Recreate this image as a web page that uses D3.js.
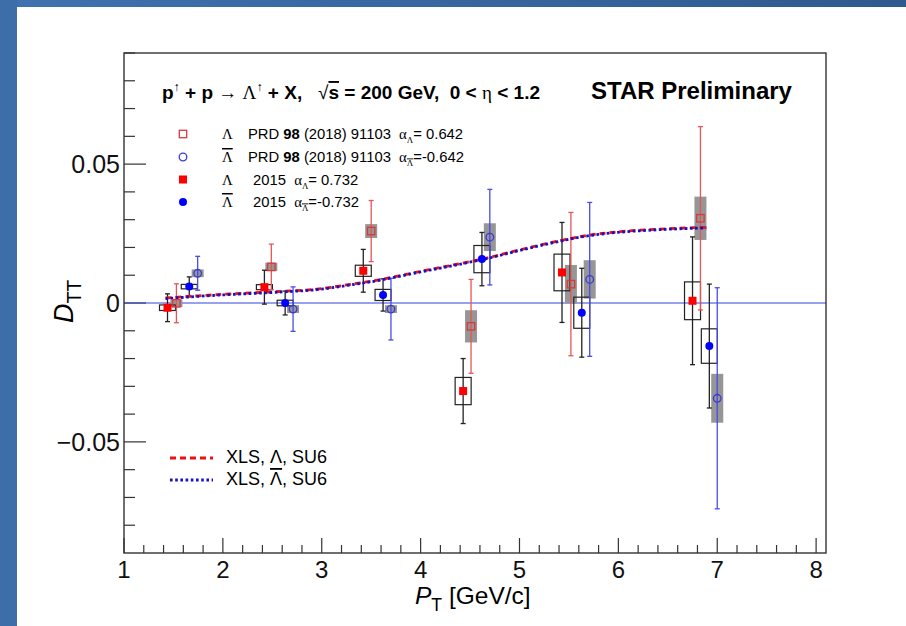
<!DOCTYPE html>
<html>
<head>
<meta charset="utf-8">
<script src="https://cdn.jsdelivr.net/npm/d3@7"></script>
<style>
  body { margin: 0; background: #fff; }
  svg { display: block; }
  text { white-space: pre; }
</style>
</head>
<body>
<svg id="chart" width="906" height="626"></svg>
<script>
// ---- Λ, PRD 98 (2018) 091103 ----
const ptLamPRD   = [1.53, 2.49, 3.50, 4.51, 5.52, 6.83];
const dttLamPRD  = [-0.0001, 0.0130, 0.0259, -0.0084, 0.0068, 0.0305];
const statLamPRD = [0.0070, 0.0082, 0.0110, 0.0169, 0.0258, 0.0330];
const sysLamPRD  = [0.0014, 0.0015, 0.0025, 0.0058, 0.0069, 0.0078];

// ---- anti-Λ, PRD 98 (2018) 091103 ----
const ptLbarPRD   = [1.745, 2.71, 3.70, 4.70, 5.71, 7.00];
const dttLbarPRD  = [0.0107, -0.0022, -0.0022, 0.0237, 0.0085, -0.0343];
const statLbarPRD = [0.0061, 0.0080, 0.0111, 0.0172, 0.0277, 0.0398];
const sysLbarPRD  = [0.0014, 0.0014, 0.0014, 0.0050, 0.0069, 0.0088];

// ---- Λ, 2015 ----
const ptLam15   = [1.44, 2.42, 3.42, 4.43, 5.43, 6.75];
const dttLam15  = [-0.0017, 0.0057, 0.0116, -0.0317, 0.0110, 0.0008];
const statLam15 = [0.0050, 0.0061, 0.0077, 0.0117, 0.0180, 0.0230];
const sysLam15  = [0.0010, 0.0009, 0.0020, 0.0049, 0.0066, 0.0068];

// ---- anti-Λ, 2015 ----
const ptLbar15   = [1.66, 2.63, 3.62, 4.62, 5.63, 6.92];
const dttLbar15  = [0.0059, 0.0000, 0.0029, 0.0158, -0.0035, -0.0155];
const statLbar15 = [0.0035, 0.0043, 0.0058, 0.0096, 0.0160, 0.0223];
const sysLbar15  = [0.0008, 0.0010, 0.0020, 0.0049, 0.0056, 0.0062];

// ---- XLS model curves (SU6) ----
const ptModel   = [1.42, 1.94, 2.61, 2.95, 3.29, 3.62, 4.00, 4.33, 4.67, 5.00, 5.34, 5.68, 6.02, 6.42, 6.76, 6.89];
const dttXlsLam = [0.0018, 0.0030, 0.0042, 0.0050, 0.0067, 0.0086, 0.0114, 0.0137, 0.0162, 0.0191, 0.0219, 0.0243, 0.0257, 0.0266, 0.0271, 0.0272];
const dttXlsLbar= [0.0016, 0.0028, 0.0040, 0.0048, 0.0065, 0.0084, 0.0112, 0.0135, 0.0160, 0.0189, 0.0217, 0.0241, 0.0255, 0.0264, 0.0269, 0.0270];

// ---- axes ----
const xMajor = [1, 2, 3, 4, 5, 6, 7, 8];
const yMajor = [-0.05, 0, 0.05];
const yMajorLabels = ["\u22120.05", "0", "0.05"];

const svg = d3.select("#chart");
const W = 906, H = 626;
const M = { left: 124, right: 826, top: 53, bottom: 553 };

const x = d3.scaleLinear().domain([1, 8.1]).range([M.left, M.right]);
const y = d3.scaleLinear().domain([-0.09, 0.09]).range([M.bottom, M.top]);

const SANS = "'Liberation Sans', Arial, Helvetica, sans-serif";
const SERIF = "'Liberation Serif', 'Times New Roman', serif";

// page decoration: slide-style blue bands
const grad = svg.append("defs").append("linearGradient").attr("id", "band")
  .attr("x1", "0%").attr("x2", "100%");
grad.append("stop").attr("offset", "0%").attr("stop-color", "#3f72b0");
grad.append("stop").attr("offset", "100%").attr("stop-color", "#2f5a8f");
svg.append("rect").attr("x", 0).attr("y", 0).attr("width", W).attr("height", 7).attr("fill", "url(#band)");
svg.append("rect").attr("x", 0).attr("y", 0).attr("width", 17).attr("height", H).attr("fill", "#3d6eaa");

// rich text helper: segments with sub/superscripts, bold, serif, overline
function rich(g, x0, y0, parts, base) {
  const t = g.append("text").attr("x", x0).attr("y", y0)
    .attr("font-family", base.family || SANS)
    .attr("font-size", base.size)
    .attr("font-weight", base.weight || "normal")
    .attr("fill", "#000");
  if (base.anchor) t.attr("text-anchor", base.anchor);
  let shift = 0;
  parts.forEach(p => {
    const s = t.append("tspan").text(p.t);
    const target = p.sub ? base.size * (p.subShift || 0.3) : p.sup ? -base.size * 0.42 : 0;
    if (target - shift !== 0) s.attr("dy", target - shift);
    shift = target;
    if (p.sub || p.sup) s.attr("font-size", base.size * (p.scale || 0.7));
    if (p.b) s.attr("font-weight", "bold");
    if (p.nb) s.attr("font-weight", "normal");
    if (p.serif) s.attr("font-family", SERIF);
    if (p.i) s.attr("font-style", "italic");
    if (p.over) s.attr("text-decoration", "overline");
    if (p.dx) s.attr("dx", p.dx);
  });
  return t;
}

// ---- ticks ----
const axG = svg.append("g").attr("stroke", "#333");
const xMinor = d3.range(1.2, 8.05, 0.2).filter(v => Math.abs(v - Math.round(v)) > 1e-6);
axG.selectAll(".xmaj").data(xMajor).join("line")
  .attr("x1", d => x(d)).attr("x2", d => x(d))
  .attr("y1", M.bottom).attr("y2", M.bottom - 15).attr("stroke-width", 1.2);
axG.selectAll(".xmin").data(xMinor).join("line")
  .attr("x1", d => x(d)).attr("x2", d => x(d))
  .attr("y1", M.bottom).attr("y2", M.bottom - 8).attr("stroke-width", 1.2);
const yMinor = d3.range(-8, 10).map(v => v / 100).filter(v => Math.abs(v * 100) % 5 !== 0);
axG.selectAll(".ymaj").data(yMajor).join("line")
  .attr("x1", M.left).attr("x2", M.left + 22)
  .attr("y1", d => y(d)).attr("y2", d => y(d)).attr("stroke-width", 1.2);
axG.selectAll(".ymin").data(yMinor).join("line")
  .attr("x1", M.left).attr("x2", M.left + 11)
  .attr("y1", d => y(d)).attr("y2", d => y(d)).attr("stroke-width", 1.2);

// tick labels
svg.append("g").selectAll("text").data(xMajor).join("text")
  .attr("x", d => x(d)).attr("y", 578)
  .attr("text-anchor", "middle").attr("font-family", SANS).attr("font-size", 24)
  .attr("fill", "#111").text(d => d);
svg.append("g").selectAll("text").data(yMajor).join("text")
  .attr("x", 120).attr("y", d => y(d) + 9)
  .attr("text-anchor", "end").attr("font-family", SANS).attr("font-size", 25)
  .attr("fill", "#111").text((d, i) => yMajorLabels[i]);

// axis titles
rich(svg, 415, 604, [{ t: "P", i: true }, { t: "T", sub: true, subShift: 0.28, scale: 0.72 }, { t: " [GeV/c]" }],
  { size: 24.5 });
const yt = svg.append("g").attr("transform", "translate(73,323) rotate(-90)");
rich(yt, 0, 0, [{ t: "D", i: true }, { t: "TT", sub: true, subShift: 0.28, scale: 0.72 }], { size: 27 });

// zero line
svg.append("line").attr("x1", M.left).attr("x2", M.right)
  .attr("y1", y(0)).attr("y2", y(0)).attr("stroke", "#3344dd").attr("stroke-width", 1.2);

// ---- data layers ----
const plot = svg.append("g");
const zip = (pt, v, st, sy) => pt.map((p, i) => ({ p, v: v[i], st: st[i], sy: sy[i] }));
const lamPRD = zip(ptLamPRD, dttLamPRD, statLamPRD, sysLamPRD);
const lbarPRD = zip(ptLbarPRD, dttLbarPRD, statLbarPRD, sysLbarPRD);
const lam15 = zip(ptLam15, dttLam15, statLam15, sysLam15);
const lbar15 = zip(ptLbar15, dttLbar15, statLbar15, sysLbar15);

// systematic boxes: filled gray for PRD, open black for 2015
function sysBoxes(data, half, filled) {
  plot.append("g").selectAll("rect").data(data).join("rect")
    .attr("x", d => x(d.p) - half).attr("width", 2 * half)
    .attr("y", d => y(d.v + d.sy)).attr("height", d => y(d.v - d.sy) - y(d.v + d.sy))
    .attr("fill", filled ? "#969696" : "none")
    .attr("stroke", filled ? "none" : "#222").attr("stroke-width", filled ? 0 : 1.2);
}
function statBars(data, color, width) {
  const g = plot.append("g").attr("stroke", color).attr("stroke-width", width);
  g.selectAll(".v").data(data).join("line")
    .attr("x1", d => x(d.p)).attr("x2", d => x(d.p))
    .attr("y1", d => y(d.v + d.st)).attr("y2", d => y(d.v - d.st));
  g.selectAll(".t").data(data).join("line")
    .attr("x1", d => x(d.p) - 2.5).attr("x2", d => x(d.p) + 2.5)
    .attr("y1", d => y(d.v + d.st)).attr("y2", d => y(d.v + d.st));
  g.selectAll(".b").data(data).join("line")
    .attr("x1", d => x(d.p) - 2.5).attr("x2", d => x(d.p) + 2.5)
    .attr("y1", d => y(d.v - d.st)).attr("y2", d => y(d.v - d.st));
}

sysBoxes(lamPRD, 6, true);
sysBoxes(lbarPRD, 6, true);
sysBoxes(lam15, 8, false);
sysBoxes(lbar15, 8, false);

statBars(lamPRD, "#e65555", 1.3);
statBars(lbarPRD, "#4b4be6", 1.3);
statBars(lam15, "#222", 1.3);
statBars(lbar15, "#222", 1.3);

// model curves
const line = d3.line().x(d => x(d[0])).y(d => y(d[1])).curve(d3.curveCatmullRom);
plot.append("path").datum(ptModel.map((p, i) => [p, dttXlsLam[i]]))
  .attr("d", line).attr("fill", "none").attr("stroke", "#ee1111")
  .attr("stroke-width", 2.8).attr("stroke-dasharray", "6,4");
plot.append("path").datum(ptModel.map((p, i) => [p, dttXlsLbar[i]]))
  .attr("d", line).attr("fill", "none").attr("stroke", "#1111cc")
  .attr("stroke-width", 2.8).attr("stroke-dasharray", "2.6,2.6");

// markers
function openSquares(g, data, cx, cy) {
  g.selectAll(null).data(data).join("rect")
    .attr("x", d => cx(d) - 3.7).attr("y", d => cy(d) - 3.7)
    .attr("width", 7.4).attr("height", 7.4)
    .attr("fill", "none").attr("stroke", "#d83a3a").attr("stroke-width", 1.3);
}
function openCircles(g, data, cx, cy) {
  g.selectAll(null).data(data).join("circle")
    .attr("cx", cx).attr("cy", cy).attr("r", 3.8)
    .attr("fill", "none").attr("stroke", "#3a3ad0").attr("stroke-width", 1.3);
}
function fullSquares(g, data, cx, cy) {
  g.selectAll(null).data(data).join("rect")
    .attr("x", d => cx(d) - 4).attr("y", d => cy(d) - 4)
    .attr("width", 8).attr("height", 8).attr("fill", "#ff0000");
}
function fullCircles(g, data, cx, cy) {
  g.selectAll(null).data(data).join("circle")
    .attr("cx", cx).attr("cy", cy).attr("r", 4).attr("fill", "#0000ff");
}
const px = d => x(d.p), py = d => y(d.v);
openSquares(plot.append("g"), lamPRD, px, py);
openCircles(plot.append("g"), lbarPRD, px, py);
fullSquares(plot.append("g"), lam15, px, py);
fullCircles(plot.append("g"), lbar15, px, py);

// frame
svg.append("rect").attr("x", M.left).attr("y", M.top)
  .attr("width", M.right - M.left).attr("height", M.bottom - M.top)
  .attr("fill", "none").attr("stroke", "#333").attr("stroke-width", 1.4);

// ---- header texts ----
rich(svg, 162, 99, [
  { t: "p" }, { t: "\u2191", sup: true, nb: true, scale: 0.65 }, { t: " + p " },
  { t: "\u2192", nb: true }, { t: " " }, { t: "\u039B", serif: true, nb: true },
  { t: "\u2191", sup: true, nb: true, scale: 0.65 }, { t: " + X,   " },
  { t: "\u221A", nb: true }, { t: "s", over: true }, { t: " = 200 GeV,  0 < " },
  { t: "\u03B7", serif: true, nb: true }, { t: " < 1.2" }
], { size: 19, weight: "bold" });

svg.append("text").attr("x", 591).attr("y", 99)
  .attr("font-family", SANS).attr("font-size", 24).attr("font-weight", "bold")
  .text("STAR Preliminary");

// ---- legend for data ----
const legRows = [134, 157, 179.5, 202];
const lg = svg.append("g");
const legX = 183;
openSquares(lg, [0], () => legX, () => legRows[0]);
openCircles(lg, [0], () => legX, () => legRows[1]);
fullSquares(lg, [0], () => legX, () => legRows[2]);
fullCircles(lg, [0], () => legX, () => legRows[3]);

const LS = 14.8;
rich(lg, 222, legRows[0] + 5, [{ t: "\u039B", serif: true }], { size: LS });
rich(lg, 222, legRows[1] + 5, [{ t: "\u039B", serif: true, over: true }], { size: LS });
rich(lg, 222, legRows[2] + 5, [{ t: "\u039B", serif: true }], { size: LS });
rich(lg, 222, legRows[3] + 5, [{ t: "\u039B", serif: true, over: true }], { size: LS });

rich(lg, 248, legRows[0] + 5, [
  { t: "PRD " }, { t: "98", b: true }, { t: " (2018) 91103  " },
  { t: "\u03B1", serif: true }, { t: "\u039B", sub: true, serif: true, scale: 0.6 }, { t: "= 0.642" }
], { size: LS });
rich(lg, 248, legRows[1] + 5, [
  { t: "PRD " }, { t: "98", b: true }, { t: " (2018) 91103  " },
  { t: "\u03B1", serif: true }, { t: "\u039B", sub: true, serif: true, over: true, scale: 0.6 }, { t: "=-0.642" }
], { size: LS });
rich(lg, 253, legRows[2] + 5, [
  { t: "2015  " }, { t: "\u03B1", serif: true }, { t: "\u039B", sub: true, serif: true, scale: 0.6 }, { t: "= 0.732" }
], { size: LS });
rich(lg, 253, legRows[3] + 5, [
  { t: "2015  " }, { t: "\u03B1", serif: true }, { t: "\u039B", sub: true, serif: true, over: true, scale: 0.6 }, { t: "=-0.732" }
], { size: LS });

// ---- legend for model curves ----
const mg = svg.append("g");
mg.append("line").attr("x1", 170).attr("x2", 213).attr("y1", 458).attr("y2", 458)
  .attr("stroke", "#ee1111").attr("stroke-width", 2.8).attr("stroke-dasharray", "6,4");
mg.append("line").attr("x1", 170).attr("x2", 213).attr("y1", 480).attr("y2", 480)
  .attr("stroke", "#1111cc").attr("stroke-width", 2.8).attr("stroke-dasharray", "2.6,2.6");
rich(mg, 226, 463, [{ t: "XLS, \u039B, SU6" }], { size: 18 });
rich(mg, 226, 485, [{ t: "XLS, " }, { t: "\u039B", over: true }, { t: ", SU6" }], { size: 18 });
</script>
</body>
</html>
